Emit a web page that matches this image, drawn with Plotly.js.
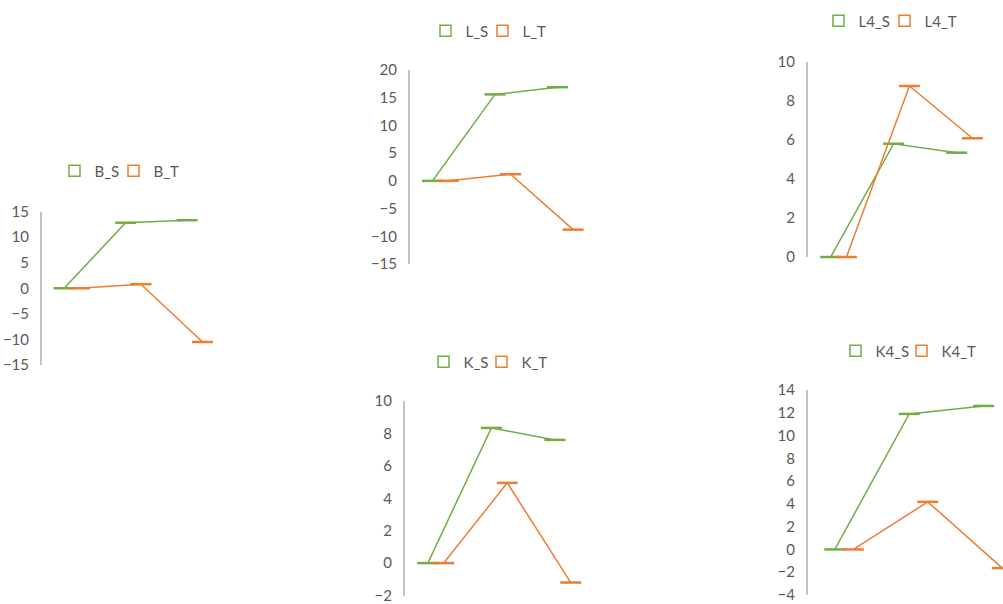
<!DOCTYPE html>
<html>
<head>
<meta charset="utf-8">
<script src="https://cdn.plot.ly/plotly-3.0.1.min.js"></script>
<style>html,body{margin:0;padding:0;background:#fff;overflow:hidden;}#chart{width:1003px;height:604px;}</style>
</head>
<body>
<div id="chart"></div>
<script>
// ---- data ----
var xS = [1, 2, 3];
var xT = [1.25, 2.25, 3.25];

var B_S = [0, 12.8, 13.3];
var B_T = [0, 0.8, -10.5];

var L_S = [0, 15.6, 16.9];
var L_T = [0, 1.2, -8.8];

var L4_S = [0, 5.81, 5.35];
var L4_T = [0, 8.77, 6.09];

var K_S = [0, 8.34, 7.6];
var K_T = [0, 4.95, -1.2];

var K4_S = [0, 11.9, 12.6];
var K4_T = [0, 4.18, -1.64];

var panelNames = ['B', 'L', 'L4', 'K', 'K4'];
var seriesS = [B_S, L_S, L4_S, K_S, K4_S];
var seriesT = [B_T, L_T, L4_T, K_T, K4_T];
var yRanges = [[-15, 15], [-15, 20], [0, 10], [-2, 10], [-4, 14]];
var yDticks = [5, 5, 2, 2, 2];

// ---- layout geometry (pixels) ----
var W = 1003, H = 604;
var green = '#70AD47', orange = '#ED7D31';
var panels = [
  {x0: 42,  x1: 224,   y0: 211.5, y1: 365,   xr: [0.64, 3.6],  lx: [80.5, 133.5], ly: 171},
  {x0: 410, x1: 595,   y0: 70,    y1: 264,   xr: [0.64, 3.6],  lx: [451.5, 502.5], ly: 31},
  {x0: 808, x1: 994.5, y0: 62,    y1: 257,   xr: [0.64, 3.6],  lx: [844.5, 904.5], ly: 21},
  {x0: 405, x1: 593,   y0: 401,   y1: 595.5, xr: [0.64, 3.6],  lx: [449.5, 501.5], ly: 362},
  {x0: 808, x1: 1003,  y0: 390,   y1: 595,   xr: [0.64, 3.26], lx: [861.5, 921.5], ly: 351}
];
var legendShift = [26, 20];

var font = {family: 'Lato, "Open Sans", sans-serif', size: 15, color: '#595959'};
var traces = [];
var layout = {
  width: W, height: H,
  margin: {l: 0, r: 0, t: 0, b: 0, autoexpand: false},
  paper_bgcolor: '#fff', plot_bgcolor: 'rgba(0,0,0,0)',
  font: font,
  showlegend: true
};

panels.forEach(function (p, i) {
  var n = i + 1;
  var xa = 'x' + (n === 1 ? '' : n), ya = 'y' + (n === 1 ? '' : n);
  var xk = 'xaxis' + (n === 1 ? '' : n), yk = 'yaxis' + (n === 1 ? '' : n);
  layout[xk] = {
    domain: [p.x0 / W, p.x1 / W], range: p.xr, visible: false,
    anchor: ya, fixedrange: true
  };
  layout[yk] = {
    domain: [1 - p.y1 / H, 1 - p.y0 / H], range: yRanges[i], dtick: yDticks[i],
    anchor: xa, showgrid: false, zeroline: false, showline: true,
    linecolor: '#C4C4C4', linewidth: 2, ticks: '', ticklabelstandoff: 8,
    ticklabeloverflow: 'allow', tickfont: font, fixedrange: true
  };
  var names = [panelNames[i] + '_S', panelNames[i] + '_T'];
  var ys = [seriesS[i], seriesT[i]];
  var xs = [xS, xT];
  var cols = [green, orange];
  for (var k = 0; k < 2; k++) {
    traces.push({
      type: 'scatter', mode: 'lines+markers', x: xs[k], y: ys[k],
      xaxis: xa, yaxis: ya, showlegend: false, cliponaxis: false,
      line: {color: cols[k], width: 1.5},
      marker: {symbol: 'line-ew', size: 15, color: cols[k], line: {color: cols[k], width: 2.5}},
      hoverinfo: 'skip'
    });
  }
  for (var k2 = 0; k2 < 2; k2++) {
    var li = 2 * i + k2 + 1;
    var lg = 'legend' + (li === 1 ? '' : li);
    layout[lg] = {
      orientation: 'h', x: (p.lx[k2] - legendShift[k2]) / W, xanchor: 'left', y: 1 - p.ly / H, yanchor: 'middle',
      font: font, bgcolor: 'rgba(0,0,0,0)', itemwidth: 30
    };
    traces.push({
      type: 'scatter', mode: 'markers', x: [null], y: [null], name: names[k2],
      xaxis: xa, yaxis: ya, legend: lg, showlegend: true,
      marker: {symbol: 'square-open', size: 11, color: cols[k2], line: {color: cols[k2], width: 1.5}}
    });
  }
});

Plotly.newPlot('chart', traces, layout, {staticPlot: true, displayModeBar: false});
</script>
</body>
</html>
